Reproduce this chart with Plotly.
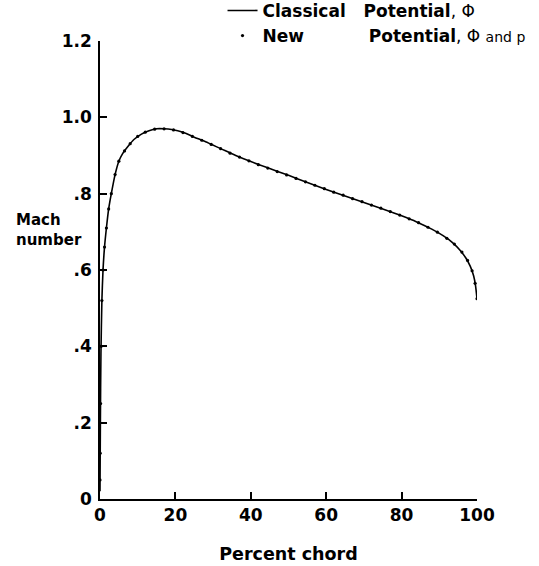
import plotly.graph_objects as go

# Classical potential (solid line)
classical_x = [0, 0.1, 0.25, 0.5, 0.8, 1.2, 1.7, 2.3, 3.0, 4.0, 5.0, 6.0, 7.5, 9, 11, 13, 15, 17,
               19, 22, 25, 28, 32, 36, 40, 45, 50, 55, 60, 65, 70, 75, 80, 84, 88, 91, 93.5,
               95.5, 97, 98.2, 99.1, 99.6, 100]
classical_y = [0.02, 0.2, 0.38, 0.52, 0.6, 0.66, 0.71, 0.76, 0.80, 0.85, 0.885, 0.905, 0.925,
               0.942, 0.956, 0.965, 0.970, 0.970, 0.968, 0.961, 0.948, 0.936, 0.918, 0.900,
               0.884, 0.866, 0.848, 0.829, 0.811, 0.794, 0.777, 0.760, 0.742, 0.726, 0.707,
               0.69, 0.672, 0.652, 0.632, 0.61, 0.585, 0.56, 0.525]

# New potential (dots)
new_x = [0, 0.05, 0.15, 0.3, 0.5, 0.8, 1.2, 1.7, 2.3, 3.0, 4.0, 5.0, 6.5, 8, 10, 12, 14.5, 17,
         19.5, 22, 24.5, 27, 29.5, 32, 34.5, 37, 39.5, 42, 44.5, 47, 49.5, 52, 54.5, 57, 59.5,
         62, 64.5, 67, 69.5, 72, 74.5, 77, 79.5, 82, 84.5, 87, 89.5, 92, 94, 96, 97.5, 98.7,
         99.5, 100]
new_y = [0.05, 0.12, 0.25, 0.40, 0.52, 0.60, 0.66, 0.71, 0.76, 0.80, 0.85, 0.885, 0.912, 0.931,
         0.950, 0.961, 0.969, 0.970, 0.967, 0.960, 0.950, 0.940, 0.929, 0.918, 0.906, 0.896,
         0.886, 0.876, 0.867, 0.858, 0.849, 0.840, 0.831, 0.822, 0.813, 0.804, 0.796, 0.787,
         0.779, 0.770, 0.762, 0.753, 0.744, 0.734, 0.724, 0.712, 0.699, 0.683, 0.668, 0.647,
         0.625, 0.598, 0.565, 0.525]

x_ticks = [0, 20, 40, 60, 80, 100]
x_ticktext = ["0", "20", "40", "60", "80", "100"]
y_ticks = [0, 0.2, 0.4, 0.6, 0.8, 1.0, 1.2]
y_ticktext = ["0", ".2", ".4", ".6", ".8", "1.0", "1.2"]

FONT = "DejaVu Sans"
NB = "\u00a0"

fig = go.Figure()
fig.add_trace(go.Scatter(
    x=classical_x, y=classical_y, mode="lines",
    line=dict(color="black", width=1.6, shape="spline", smoothing=0.6),
    name="<b>Classical" + NB * 3 + "Potential</b>," + NB + "Φ",
))
fig.add_trace(go.Scatter(
    x=new_x, y=new_y, mode="markers",
    marker=dict(color="black", size=3.2),
    name="<b>New</b>" + NB * 12 + "<b>Potential</b>," + NB
         + "Φ <span style='font-size:14px'>and p</span>",
))

axis_common = dict(
    showline=True, linecolor="black", linewidth=1.5,
    ticks="inside", ticklen=7, tickwidth=1.5, tickcolor="black",
    showgrid=False, zeroline=False,
    tickfont=dict(family=FONT, size=17, color="black", weight="bold"),
)

# body margin removed via post_script; plot area sits at x 100-477, y 41-499
fig.update_layout(
    width=539, height=566, autosize=False,
    paper_bgcolor="white", plot_bgcolor="white",
    margin=dict(l=100, r=62, t=41, b=67, autoexpand=False),
    font=dict(family=FONT, color="black"),
    showlegend=True,
    legend=dict(
        x=0.325, y=1.105, xanchor="left", yanchor="top",
        bgcolor="rgba(0,0,0,0)", borderwidth=0,
        font=dict(family=FONT, size=17, color="black"),
        itemwidth=30, tracegroupgap=0,
    ),
    xaxis=dict(
        range=[0, 100], tickvals=x_ticks, ticktext=x_ticktext,
        title=dict(text="<b>Percent chord</b>", standoff=24,
                   font=dict(family=FONT, size=17.5, color="black")),
        automargin=False,
        **axis_common,
    ),
    yaxis=dict(
        range=[0, 1.2], tickvals=y_ticks, ticktext=y_ticktext,
        ticklabelstandoff=3, automargin=False,
        **axis_common,
    ),
)

fig.add_annotation(
    text="<b>Mach</b><br><b>number</b>", xref="paper", yref="paper",
    x=-0.228, y=(499 - 230) / 458, align="left",
    xanchor="left", yanchor="middle", showarrow=False,
    font=dict(family=FONT, size=15, color="black"),
)

fig.write_html(
    "out.html",
    config={"displayModeBar": False},
    post_script="document.body.style.margin='0';document.body.style.padding='0';",
)
